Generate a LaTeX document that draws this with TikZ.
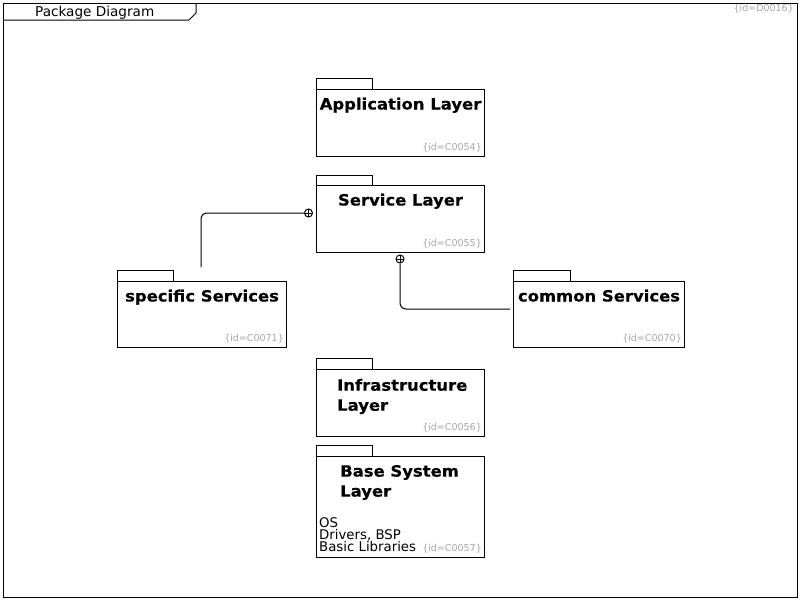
\documentclass[tikz,border=0pt]{standalone}
\usepackage{fontspec}
\setmainfont{DejaVu Sans}
\newfontfamily\ttlfont[FakeStretch=1.06,FakeBold=0.3]{DejaVu Sans}
\definecolor{idgray}{RGB}{165,165,165}
\begin{document}
\begin{tikzpicture}[x=1pt,y=-1pt,
  pkg/.style={draw, line width=1pt, inner sep=0pt, anchor=north west},
  tabbox/.style={draw, line width=1pt},
  ttl/.style={font=\fontsize{15.5}{20}\ttlfont\bfseries, inner sep=0pt},
  idtxt/.style={font=\fontsize{9.5}{11}\selectfont, text=idgray, inner sep=0pt, anchor=east},
  conn/.style={line width=1pt, rounded corners=6pt},
  oplus/.style={circle, draw, line width=1pt, minimum size=8pt, inner sep=0pt,
    path picture={\draw[line width=0.8pt] (path picture bounding box.north) -- (path picture bounding box.south)
      (path picture bounding box.west) -- (path picture bounding box.east);}},
  body/.style={font=\fontsize{13.3}{12}\selectfont, inner sep=0pt, align=left}
]
\useasboundingbox (0,0) rectangle (800,600);
% frame
\draw[line width=1pt] (3,3) rectangle (797,597);
\draw[line width=1pt] (3,20) -- (189,20) -- (196,13) -- (196,3);
\node[font=\fontsize{13.6}{15}\selectfont, inner sep=0pt, anchor=base west] (frametitle) at (35,16) {Package Diagram};
\node[font=\fontsize{9.5}{11}\selectfont, text=idgray, inner sep=0pt, anchor=base east] (frameid) at (794,11) {\{id=D0016\}};

% Application Layer
\node[pkg, minimum width=168pt, minimum height=67pt] (app) at (316,89) {};
\draw[tabbox] (app.north west) rectangle ++(56,-11);
\node[ttl, anchor=base] (appT) at ([yshift=-20.5pt]app.north) {Application Layer};
\node[idtxt] (appI) at ([shift={(-3pt,9pt)}]app.south east) {\{id=C0054\}};

% Service Layer
\node[pkg, minimum width=168pt, minimum height=67pt] (svc) at (316,185) {};
\draw[tabbox] (svc.north west) rectangle ++(56,-10);
\node[ttl, anchor=base] (svcT) at ([yshift=-20.5pt]svc.north) {Service Layer};
\node[idtxt] (svcI) at ([shift={(-3pt,9pt)}]svc.south east) {\{id=C0055\}};

% specific Services
\node[pkg, minimum width=169pt, minimum height=66pt] (spec) at (117,281) {};
\draw[tabbox] (spec.north west) rectangle ++(56,-11);
\node[ttl, anchor=base] (specT) at ([yshift=-20.5pt]spec.north) {specific Services};
\node[idtxt] (specI) at ([shift={(-3pt,9pt)}]spec.south east) {\{id=C0071\}};

% common Services
\node[pkg, minimum width=171pt, minimum height=66pt] (comm) at (513,281) {};
\draw[tabbox] (comm.north west) rectangle ++(57,-11);
\node[ttl, anchor=base] (commT) at ([yshift=-20.5pt]comm.north) {common Services};
\node[idtxt] (commI) at ([shift={(-3pt,9pt)}]comm.south east) {\{id=C0070\}};

% Infrastructure Layer
\node[pkg, minimum width=168pt, minimum height=67pt] (infra) at (316,369) {};
\draw[tabbox] (infra.north west) rectangle ++(56,-11);
\node[ttl, align=left, anchor=west] (infraT) at (337,396.5) {Infrastructure\\Layer};
\node[idtxt] (infraI) at ([shift={(-3pt,9pt)}]infra.south east) {\{id=C0056\}};

% Base System Layer
\node[pkg, minimum width=168pt, minimum height=101pt] (base) at (316,456) {};
\draw[tabbox] (base.north west) rectangle ++(56,-11);
\node[ttl, align=left, anchor=west] (baseT) at (340,482.5) {Base System\\Layer};
\node[body, anchor=north west] (baseB) at (319,517.5) {OS\\Drivers, BSP\\Basic Libraries};
\node[idtxt] (baseI) at ([shift={(-3pt,9pt)}]base.south east) {\{id=C0057\}};

% containment connectors
\node[oplus] (p1) at (308.5,213) {};
\node[oplus] (p2) at (400,259) {};
\coordinate (s1) at (201,267);
\coordinate (c1) at (510,309);
\draw[conn] (s1) |- (p1.west);
\draw[conn] (c1) -| (p2.south);
\end{tikzpicture}
\end{document}
